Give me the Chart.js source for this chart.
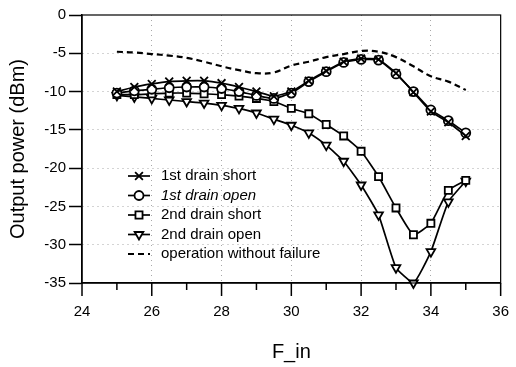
<!DOCTYPE html>
<html lang="en">
<head>
  <meta charset="UTF-8">
  <title>Output power vs F_in</title>
  <style>
    body { margin: 0; background: #fff; }
    #wrap { width: 516px; height: 367px; }
  </style>
  <script src="https://cdn.jsdelivr.net/npm/chart.js@4.4.0/dist/chart.umd.min.js"></script>
</head>
<body>
  <div id="wrap"><canvas id="power-chart" width="516" height="367"></canvas></div>

  <script>
    // Input frequency steps (x axis)
    const fIn = [25, 25.5, 26, 26.5, 27, 27.5, 28, 28.5, 29, 29.5, 30,
                 30.5, 31, 31.5, 32, 32.5, 33, 33.5, 34, 34.5, 35];

    // Output power in dBm for each failure case
    const firstDrainShort = [-10.0, -9.4, -9.0, -8.7, -8.6, -8.6, -8.9, -9.4, -10.0, -10.6, -10.0,
                             -8.6, -7.3, -6.1, -5.7, -5.8, -7.6, -10.1, -12.6, -14.0, -15.8];
    const firstDrainOpen = [-10.2, -9.9, -9.7, -9.5, -9.4, -9.4, -9.6, -10.0, -10.5, -10.9, -10.2,
                            -8.7, -7.4, -6.2, -5.8, -5.9, -7.7, -10.0, -12.4, -13.8, -15.4];
    const secondDrainShort = [-10.4, -10.4, -10.3, -10.2, -10.2, -10.3, -10.4, -10.6, -10.9, -11.3, -12.2,
                              -12.9, -14.3, -15.8, -17.8, -21.1, -25.2, -28.7, -27.2, -22.9, -21.6];
    const secondDrainOpen = [-10.5, -10.7, -10.9, -11.1, -11.3, -11.5, -11.8, -12.2, -12.8, -13.6, -14.4,
                             -15.4, -17.0, -19.1, -22.2, -26.1, -33.0, -35.0, -30.9, -24.4, -21.7];
    const noFailure = [-4.8, -4.9, -5.1, -5.3, -5.6, -6.1, -6.7, -7.2, -7.6, -7.5, -6.6,
                       -6.1, -5.5, -5.1, -4.7, -4.8, -5.5, -6.7, -8.0, -8.7, -9.8];

    const seriesLabels = ['1st drain short', '1st drain open', '2nd drain short', '2nd drain open', 'operation without failure'];
    const xTicks = [24, 26, 28, 30, 32, 34, 36];
    const yTicks = [0, -5, -10, -15, -20, -25, -30, -35];

    const toPoints = arr => arr.map((v, i) => ({ x: fIn[i], y: v }));
    const FONT = 'Arial, "Liberation Sans", sans-serif';

    function markerSet(label, values, style, extra) {
      return Object.assign({
        label: label,
        data: toPoints(values),
        borderColor: '#000',
        borderWidth: 1.7,
        pointStyle: style,
        pointRadius: 4.5,
        pointBorderWidth: 1.8,
        pointBorderColor: '#000',
        pointBackgroundColor: '#fff',
        tension: 0.15,
        clip: false
      }, extra || {});
    }

    // frame, minor x ticks and the in-plot legend
    const decorations = {
      id: 'decorations',
      afterDraw(chart) {
        const { ctx, chartArea: a, scales } = chart;
        ctx.save();
        ctx.strokeStyle = '#000';
        ctx.lineWidth = 1.2;
        ctx.strokeRect(a.left, a.top, a.right - a.left, a.bottom - a.top);

        // x ticks: long at labelled values, short in between
        ctx.lineWidth = 1.5;
        for (let v = 24; v <= 36; v++) {
          const px = scales.x.getPixelForValue(v);
          const len = v % 2 === 0 ? 13 : 7;
          ctx.beginPath();
          ctx.moveTo(px, a.bottom);
          ctx.lineTo(px, a.bottom + len);
          ctx.stroke();
        }

        // legend
        const x0 = 128, x1 = 150, textX = 161, rowY = 176, rowH = 19.5;
        chart.data.datasets.forEach((ds, i) => {
          const y = rowY + i * rowH;
          ctx.strokeStyle = '#000';
          ctx.lineWidth = ds.borderWidth;
          ctx.setLineDash(ds.borderDash || []);
          ctx.beginPath();
          ctx.moveTo(x0, y);
          ctx.lineTo(x1, y);
          ctx.stroke();
          ctx.setLineDash([]);
          if (ds.pointRadius > 0) {
            ctx.fillStyle = '#fff';
            ctx.lineWidth = ds.pointBorderWidth;
            Chart.helpers.drawPoint(ctx, {
              pointStyle: ds.pointStyle,
              rotation: ds.pointRotation || 0,
              radius: ds.pointRadius,
              borderWidth: ds.pointBorderWidth
            }, (x0 + x1) / 2, y);
          }
          ctx.fillStyle = '#000';
          ctx.textBaseline = 'middle';
          ctx.font = (i === 1 ? 'italic ' : '') + '15px ' + FONT;
          ctx.fillText(ds.label, textX, y);
        });
        ctx.restore();
      }
    };

    new Chart(document.getElementById('power-chart'), {
      type: 'line',
      data: {
        datasets: [
          markerSet(seriesLabels[0], firstDrainShort, 'crossRot', { pointRadius: 5.5 }),
          markerSet(seriesLabels[1], firstDrainOpen, 'circle'),
          markerSet(seriesLabels[2], secondDrainShort, 'rect', { pointRadius: 5 }),
          markerSet(seriesLabels[3], secondDrainOpen, 'triangle', { pointRotation: 180, pointRadius: 5 }),
          {
            label: seriesLabels[4],
            data: toPoints(noFailure),
            borderColor: '#000',
            borderWidth: 2.2,
            borderDash: [6, 4],
            pointRadius: 0,
            tension: 0.4,
            clip: false
          }
        ]
      },
      options: {
        responsive: false,
        animation: false,
        layout: { padding: { left: 0, right: 6, top: 15, bottom: 0 } },
        plugins: {
          legend: { display: false },
          tooltip: { enabled: false }
        },
        scales: {
          x: {
            type: 'linear',
            min: 24,
            max: 36,
            afterBuildTicks: s => { s.ticks = xTicks.map(v => ({ value: v })); },
            afterFit: s => { s.height = 84; },
            ticks: { color: '#000', padding: 7, font: { family: FONT, size: 15 } },
            grid: {
              color: c => (c.tick && (c.tick.value === 24 || c.tick.value === 36)) ? 'rgba(0,0,0,0)' : '#a8a8a8',
              lineWidth: 1,
              tickLength: 13,
              tickColor: 'rgba(0,0,0,0)'
            },
            border: { color: '#000', width: 1.5, dash: [1, 4] },
            title: {
              display: true,
              text: 'F_in',
              color: '#000',
              font: { family: FONT, size: 20 },
              padding: { top: 0, bottom: 3 }
            }
          },
          y: {
            min: -35,
            max: 0,
            afterBuildTicks: s => { s.ticks = yTicks.map(v => ({ value: v })); },
            afterFit: s => { s.width = 82; },
            ticks: { color: '#000', padding: 3, font: { family: FONT, size: 15 } },
            grid: {
              color: c => (c.tick && (c.tick.value === 0 || c.tick.value === -35)) ? 'rgba(0,0,0,0)' : '#a8a8a8',
              lineWidth: 1,
              tickLength: 13,
              tickColor: '#000',
              tickWidth: 1.5
            },
            border: { color: '#000', width: 1.5, dash: [1, 4] },
            title: {
              display: true,
              text: 'Output power (dBm)',
              color: '#000',
              font: { family: FONT, size: 20 },
              padding: { top: 6, bottom: 0 }
            }
          }
        }
      },
      plugins: [decorations]
    });
  </script>
</body>
</html>
